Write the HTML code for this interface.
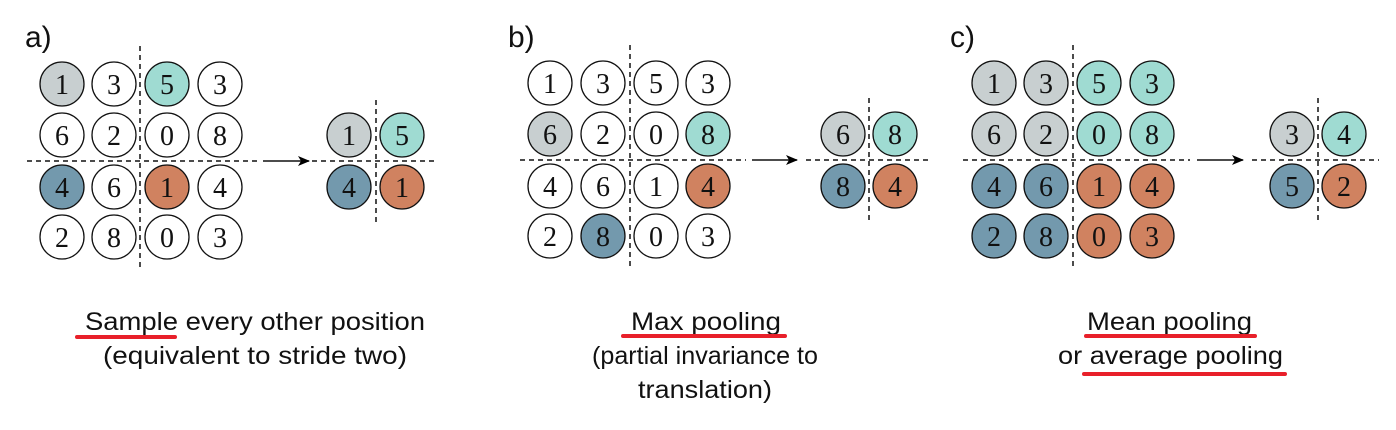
<!DOCTYPE html>
<html><head><meta charset="utf-8"><style>html,body{margin:0;padding:0;background:#fff;}svg{display:block}</style></head>
<body>
<svg width="1396" height="430" viewBox="0 0 1396 430" xmlns="http://www.w3.org/2000/svg">
<defs>
<marker id="ah" markerWidth="12" markerHeight="10" refX="11" refY="5" orient="auto" markerUnits="userSpaceOnUse">
<path d="M0,0 L12,5 L0,10 L3,5 Z" fill="#000"/>
</marker>
<style>
.c{stroke:#111;stroke-width:1.3}
.n{font-family:"Liberation Serif",serif;font-size:28px;text-anchor:middle;fill:#111}
.d{stroke:#111;stroke-width:1.5;stroke-dasharray:5,4;fill:none}
.lab{font-family:"Liberation Sans",sans-serif;font-size:30px;fill:#111}
.t{font-family:"Liberation Sans",sans-serif;font-size:25px;fill:#111}
.r{stroke:#e8202a;stroke-width:4;stroke-linecap:round}
</style>
</defs>

<!-- Panel a -->
<text class="lab" x="25" y="47">a)</text>
<line class="d" x1="140" y1="46" x2="140" y2="270"/>
<line class="d" x1="27" y1="161" x2="258" y2="161"/>
<g>
<circle class="c" cx="62" cy="84" r="22" fill="#c8cfd0"/><text class="n" x="62" y="94">1</text>
<circle class="c" cx="114" cy="84" r="22" fill="#fff"/><text class="n" x="114" y="94">3</text>
<circle class="c" cx="167" cy="84" r="22" fill="#9fdbd2"/><text class="n" x="167" y="94">5</text>
<circle class="c" cx="220" cy="84" r="22" fill="#fff"/><text class="n" x="220" y="94">3</text>
<circle class="c" cx="62" cy="135" r="22" fill="#fff"/><text class="n" x="62" y="145">6</text>
<circle class="c" cx="114" cy="135" r="22" fill="#fff"/><text class="n" x="114" y="145">2</text>
<circle class="c" cx="167" cy="135" r="22" fill="#fff"/><text class="n" x="167" y="145">0</text>
<circle class="c" cx="220" cy="135" r="22" fill="#fff"/><text class="n" x="220" y="145">8</text>
<circle class="c" cx="62" cy="187" r="22" fill="#7399ad"/><text class="n" x="62" y="197">4</text>
<circle class="c" cx="114" cy="187" r="22" fill="#fff"/><text class="n" x="114" y="197">6</text>
<circle class="c" cx="167" cy="187" r="22" fill="#d08260"/><text class="n" x="167" y="197">1</text>
<circle class="c" cx="220" cy="187" r="22" fill="#fff"/><text class="n" x="220" y="197">4</text>
<circle class="c" cx="62" cy="237" r="22" fill="#fff"/><text class="n" x="62" y="247">2</text>
<circle class="c" cx="114" cy="237" r="22" fill="#fff"/><text class="n" x="114" y="247">8</text>
<circle class="c" cx="167" cy="237" r="22" fill="#fff"/><text class="n" x="167" y="247">0</text>
<circle class="c" cx="220" cy="237" r="22" fill="#fff"/><text class="n" x="220" y="247">3</text>
</g>
<line x1="263" y1="161" x2="309" y2="161" stroke="#111" stroke-width="1.5" marker-end="url(#ah)"/>
<line class="d" x1="376" y1="100" x2="376" y2="222"/>
<line class="d" x1="312" y1="161" x2="438" y2="161"/>
<circle class="c" cx="349" cy="135" r="22" fill="#c8cfd0"/><text class="n" x="349" y="145">1</text>
<circle class="c" cx="402" cy="135" r="22" fill="#9fdbd2"/><text class="n" x="402" y="145">5</text>
<circle class="c" cx="349" cy="187" r="22" fill="#7399ad"/><text class="n" x="349" y="197">4</text>
<circle class="c" cx="402" cy="187" r="22" fill="#d08260"/><text class="n" x="402" y="197">1</text>

<text class="t" x="85" y="330" textLength="340" lengthAdjust="spacingAndGlyphs">Sample every other position</text>
<text class="t" x="103" y="364" textLength="304" lengthAdjust="spacingAndGlyphs">(equivalent to stride two)</text>
<line class="r" x1="77" y1="337" x2="175" y2="337"/>

<!-- Panel b -->
<text class="lab" x="508" y="47">b)</text>
<line class="d" x1="630" y1="45" x2="630" y2="268"/>
<line class="d" x1="520" y1="160" x2="746" y2="160"/>
<circle class="c" cx="550" cy="83" r="22" fill="#fff"/><text class="n" x="550" y="93">1</text>
<circle class="c" cx="603" cy="83" r="22" fill="#fff"/><text class="n" x="603" y="93">3</text>
<circle class="c" cx="656" cy="83" r="22" fill="#fff"/><text class="n" x="656" y="93">5</text>
<circle class="c" cx="708" cy="83" r="22" fill="#fff"/><text class="n" x="708" y="93">3</text>
<circle class="c" cx="550" cy="134" r="22" fill="#c8cfd0"/><text class="n" x="550" y="144">6</text>
<circle class="c" cx="603" cy="134" r="22" fill="#fff"/><text class="n" x="603" y="144">2</text>
<circle class="c" cx="656" cy="134" r="22" fill="#fff"/><text class="n" x="656" y="144">0</text>
<circle class="c" cx="708" cy="134" r="22" fill="#9fdbd2"/><text class="n" x="708" y="144">8</text>
<circle class="c" cx="550" cy="186" r="22" fill="#fff"/><text class="n" x="550" y="196">4</text>
<circle class="c" cx="603" cy="186" r="22" fill="#fff"/><text class="n" x="603" y="196">6</text>
<circle class="c" cx="656" cy="186" r="22" fill="#fff"/><text class="n" x="656" y="196">1</text>
<circle class="c" cx="708" cy="186" r="22" fill="#d08260"/><text class="n" x="708" y="196">4</text>
<circle class="c" cx="550" cy="236" r="22" fill="#fff"/><text class="n" x="550" y="246">2</text>
<circle class="c" cx="603" cy="236" r="22" fill="#7399ad"/><text class="n" x="603" y="246">8</text>
<circle class="c" cx="656" cy="236" r="22" fill="#fff"/><text class="n" x="656" y="246">0</text>
<circle class="c" cx="708" cy="236" r="22" fill="#fff"/><text class="n" x="708" y="246">3</text>
<line x1="752" y1="160" x2="797" y2="160" stroke="#111" stroke-width="1.5" marker-end="url(#ah)"/>
<line class="d" x1="869" y1="98" x2="869" y2="220"/>
<line class="d" x1="806" y1="160" x2="932" y2="160"/>
<circle class="c" cx="843" cy="134" r="22" fill="#c8cfd0"/><text class="n" x="843" y="144">6</text>
<circle class="c" cx="895" cy="134" r="22" fill="#9fdbd2"/><text class="n" x="895" y="144">8</text>
<circle class="c" cx="843" cy="186" r="22" fill="#7399ad"/><text class="n" x="843" y="196">8</text>
<circle class="c" cx="895" cy="186" r="22" fill="#d08260"/><text class="n" x="895" y="196">4</text>

<text class="t" x="631" y="330" textLength="150" lengthAdjust="spacingAndGlyphs">Max pooling</text>
<text class="t" x="592" y="364" textLength="226" lengthAdjust="spacingAndGlyphs">(partial invariance to</text>
<text class="t" x="638" y="398" textLength="134" lengthAdjust="spacingAndGlyphs">translation)</text>
<line class="r" x1="623" y1="336" x2="785" y2="336"/>

<!-- Panel c -->
<text class="lab" x="950" y="47">c)</text>
<line class="d" x1="1073" y1="45" x2="1073" y2="268"/>
<line class="d" x1="963" y1="160" x2="1190" y2="160"/>
<circle class="c" cx="994" cy="83" r="22" fill="#c8cfd0"/><text class="n" x="994" y="93">1</text>
<circle class="c" cx="1046" cy="83" r="22" fill="#c8cfd0"/><text class="n" x="1046" y="93">3</text>
<circle class="c" cx="1099" cy="83" r="22" fill="#9fdbd2"/><text class="n" x="1099" y="93">5</text>
<circle class="c" cx="1152" cy="83" r="22" fill="#9fdbd2"/><text class="n" x="1152" y="93">3</text>
<circle class="c" cx="994" cy="134" r="22" fill="#c8cfd0"/><text class="n" x="994" y="144">6</text>
<circle class="c" cx="1046" cy="134" r="22" fill="#c8cfd0"/><text class="n" x="1046" y="144">2</text>
<circle class="c" cx="1099" cy="134" r="22" fill="#9fdbd2"/><text class="n" x="1099" y="144">0</text>
<circle class="c" cx="1152" cy="134" r="22" fill="#9fdbd2"/><text class="n" x="1152" y="144">8</text>
<circle class="c" cx="994" cy="186" r="22" fill="#7399ad"/><text class="n" x="994" y="196">4</text>
<circle class="c" cx="1046" cy="186" r="22" fill="#7399ad"/><text class="n" x="1046" y="196">6</text>
<circle class="c" cx="1099" cy="186" r="22" fill="#d08260"/><text class="n" x="1099" y="196">1</text>
<circle class="c" cx="1152" cy="186" r="22" fill="#d08260"/><text class="n" x="1152" y="196">4</text>
<circle class="c" cx="994" cy="236" r="22" fill="#7399ad"/><text class="n" x="994" y="246">2</text>
<circle class="c" cx="1046" cy="236" r="22" fill="#7399ad"/><text class="n" x="1046" y="246">8</text>
<circle class="c" cx="1099" cy="236" r="22" fill="#d08260"/><text class="n" x="1099" y="246">0</text>
<circle class="c" cx="1152" cy="236" r="22" fill="#d08260"/><text class="n" x="1152" y="246">3</text>
<line x1="1197" y1="160" x2="1243" y2="160" stroke="#111" stroke-width="1.5" marker-end="url(#ah)"/>
<line class="d" x1="1318" y1="98" x2="1318" y2="220"/>
<line class="d" x1="1252" y1="160" x2="1379" y2="160"/>
<circle class="c" cx="1292" cy="134" r="22" fill="#c8cfd0"/><text class="n" x="1292" y="144">3</text>
<circle class="c" cx="1344" cy="134" r="22" fill="#9fdbd2"/><text class="n" x="1344" y="144">4</text>
<circle class="c" cx="1292" cy="186" r="22" fill="#7399ad"/><text class="n" x="1292" y="196">5</text>
<circle class="c" cx="1344" cy="186" r="22" fill="#d08260"/><text class="n" x="1344" y="196">2</text>

<text class="t" x="1087" y="330" textLength="165" lengthAdjust="spacingAndGlyphs">Mean pooling</text>
<text class="t" x="1058" y="364" textLength="225" lengthAdjust="spacingAndGlyphs">or average pooling</text>
<line class="r" x1="1086" y1="336" x2="1255" y2="336"/>
<line class="r" x1="1084" y1="374" x2="1285" y2="374"/>
</svg>
</body></html>
